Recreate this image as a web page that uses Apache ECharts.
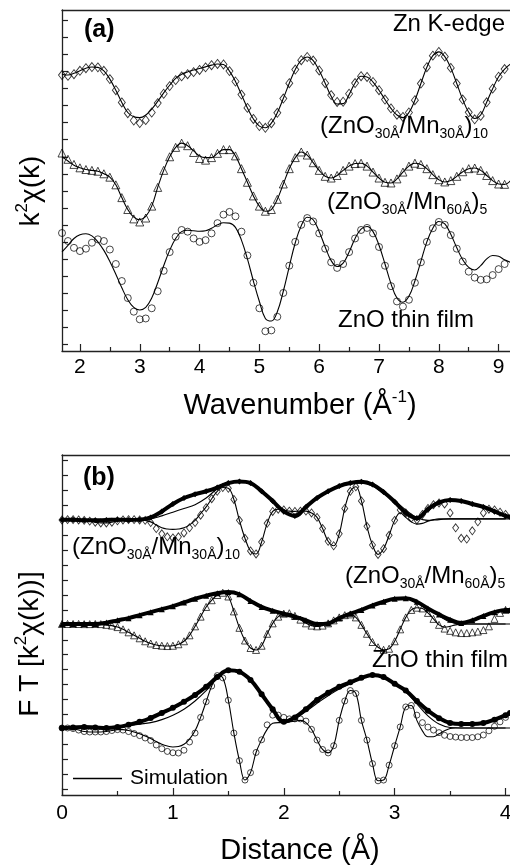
<!DOCTYPE html>
<html>
<head>
<meta charset="utf-8">
<title>Zn K-edge EXAFS and Fourier transforms</title>
<script src="https://cdn.jsdelivr.net/npm/echarts@6.0.0/dist/echarts.min.js"></script>
<style>
  html, body { margin: 0; padding: 0; background: #fff; }
  #chart { width: 510px; height: 865px; }
</style>
</head>
<body>
<div id="chart"></div>
<script>
const FONT = "'Liberation Sans', Arial, Helvetica, sans-serif";

// ---- (a) k-space, wavenumber in 1/Å ----
const kGrid = [1.7, 1.8, 1.9, 2.0, 2.1, 2.2, 2.3, 2.4, 2.5, 2.6,
  2.7, 2.8, 2.9, 3.0, 3.1, 3.2, 3.3, 3.4, 3.5, 3.6,
  3.7, 3.8, 3.9, 4.0, 4.1, 4.2, 4.3, 4.4, 4.5, 4.6,
  4.7, 4.8, 4.9, 5.0, 5.1, 5.2, 5.3, 5.4, 5.5, 5.6,
  5.7, 5.8, 5.9, 6.0, 6.1, 6.2, 6.3, 6.4, 6.5, 6.6,
  6.7, 6.8, 6.9, 7.0, 7.1, 7.2, 7.3, 7.4, 7.5, 7.6,
  7.7, 7.8, 7.9, 8.0, 8.1, 8.2, 8.3, 8.4, 8.5, 8.6,
  8.7, 8.8, 8.9, 9.0, 9.1, 9.2];

// (ZnO30Å/Mn30Å)10, measured and simulated (vertically offset)
const chiMn30 = [15.8, 15.75, 15.85, 16.05, 16.2, 16.27, 16.25, 16.05, 15.56, 14.91,
  14.19, 13.56, 13.13, 12.98, 13.15, 13.6, 14.15, 14.7, 15.15, 15.5,
  15.72, 15.85, 15.97, 16.1, 16.25, 16.38, 16.45, 16.42, 16.03, 15.42,
  14.65, 13.87, 13.22, 12.8, 12.7, 12.97, 13.58, 14.42, 15.32, 16.12,
  16.67, 16.86, 16.65, 16.07, 15.32, 14.62, 14.22, 14.23, 14.7, 15.33,
  15.73, 15.69, 15.39, 14.91, 14.36, 13.84, 13.47, 13.34, 13.6, 14.32,
  15.3, 16.26, 16.94, 17.16, 16.88, 16.22, 15.3, 14.36, 13.61, 13.2,
  13.4, 14.2, 15.0, 15.7, 16.15, 16.45];
const chiMn30Fit = [15.85, 15.8, 15.9, 16.05, 16.2, 16.27, 16.25, 16.05, 15.56, 14.91,
  14.19, 13.6, 13.35, 13.3, 13.45, 13.8, 14.25, 14.75, 15.2, 15.6,
  15.85, 15.98, 16.1, 16.18, 16.28, 16.38, 16.45, 16.42, 16.03, 15.42,
  14.65, 13.87, 13.22, 12.8, 12.7, 12.97, 13.58, 14.42, 15.32, 16.12,
  16.67, 16.86, 16.65, 16.07, 15.32, 14.55, 14.1, 14.12, 14.65, 15.33,
  15.73, 15.69, 15.39, 14.91, 14.36, 13.84, 13.45, 13.3, 13.6, 14.32,
  15.3, 16.26, 16.94, 17.16, 16.88, 16.22, 15.3, 14.36, 13.61, 13.25,
  13.45, 14.2, 15.0, 15.7, 16.15, 16.45];

// (ZnO30Å/Mn60Å)5
const chiMn60 = [11.22, 10.85, 10.55, 10.35, 10.25, 10.2, 10.15, 10.0, 9.8, 9.35,
  8.6, 7.9, 7.35, 7.17, 7.4, 8.1, 9.2, 10.2, 11.0, 11.55,
  11.8, 11.65, 11.25, 10.9, 10.8, 10.95, 11.2, 11.42, 11.42, 11.05,
  10.3, 9.5, 8.7, 8.1, 7.8, 7.9, 8.5, 9.4, 10.3, 10.95,
  11.28, 11.1, 10.65, 10.2, 9.85, 9.75, 9.9, 10.2, 10.45, 10.6,
  10.62, 10.45, 10.1, 9.75, 9.5, 9.46, 9.7, 10.1, 10.45, 10.62,
  10.55, 10.3, 9.95, 9.65, 9.52, 9.6, 9.85, 10.12, 10.3, 10.34,
  10.2, 9.9, 9.6, 9.4, 9.38, 9.6];
const chiMn60Fit = [11.0, 10.75, 10.5, 10.35, 10.25, 10.2, 10.15, 10.0, 9.8, 9.35,
  8.6, 7.9, 7.45, 7.3, 7.5, 8.1, 9.2, 10.2, 11.0, 11.55,
  11.8, 11.65, 11.35, 11.05, 10.95, 10.95, 11.2, 11.42, 11.42, 11.05,
  10.3, 9.5, 8.7, 8.1, 7.8, 7.9, 8.5, 9.4, 10.3, 10.95,
  11.28, 11.1, 10.65, 10.2, 9.85, 9.75, 9.9, 10.2, 10.45, 10.6,
  10.62, 10.45, 10.1, 9.75, 9.5, 9.46, 9.7, 10.1, 10.45, 10.62,
  10.55, 10.3, 9.95, 9.65, 9.52, 9.6, 9.85, 10.12, 10.3, 10.34,
  10.2, 9.9, 9.6, 9.4, 9.38, 9.6];

// ZnO thin film
const chiZnO = [6.52, 6.05, 5.65, 5.46, 5.6, 5.95, 6.15, 6.05, 5.55, 4.7,
  3.7, 2.7, 1.9, 1.45, 1.5, 2.1, 3.1, 4.3, 5.4, 6.3,
  6.7, 6.6, 6.2, 6.0, 6.1, 6.5, 7.1, 7.6, 7.76, 7.5,
  6.6, 5.2, 3.6, 2.1, 0.75, 0.8, 1.6, 3.0, 4.6, 6.0,
  7.0, 7.4, 7.2, 6.5, 5.6, 4.8, 4.47, 4.7, 5.4, 6.2,
  6.7, 6.82, 6.5, 5.7, 4.6, 3.4, 2.5, 2.2, 2.6, 3.6,
  4.8, 6.0, 6.8, 7.17, 7.0, 6.4, 5.6, 4.85, 4.25, 3.9,
  3.77, 3.8, 4.05, 4.4, 4.7, 4.95];
const chiZnOFit = [5.41, 5.8, 6.2, 6.42, 6.48, 6.35, 6.0, 5.5, 4.85, 4.1,
  3.3, 2.6, 2.15, 2.0, 2.15, 2.7, 3.6, 4.6, 5.5, 6.2,
  6.6, 6.68, 6.65, 6.62, 6.65, 6.8, 7.0, 7.12, 7.1, 6.85,
  6.1, 5.0, 3.7, 2.5, 1.5, 1.35, 1.9, 3.1, 4.55, 5.95,
  6.95, 7.45, 7.3, 6.6, 5.7, 4.9, 4.55, 4.75, 5.4, 6.2,
  6.75, 6.9, 6.6, 5.8, 4.7, 3.55, 2.7, 2.45, 2.8, 3.7,
  4.85, 6.0, 6.8, 7.2, 7.05, 6.45, 5.65, 4.95, 4.5, 4.35,
  4.6, 5.0, 5.2, 5.15, 4.95, 4.8];

const kTicks = [2, 3, 4, 5, 6, 7, 8, 9];
const kMinorTicks = [2.5, 3.5, 4.5, 5.5, 6.5, 7.5, 8.5];
const chiTicks = [0, 1, 2, 3, 4, 5, 6, 7, 8, 9, 10, 11, 12, 13, 14, 15, 16, 17, 18, 19];

// ---- (b) R-space, distance in Å ----
const rMag = [0, 0.1, 0.2, 0.3, 0.4, 0.5, 0.6, 0.7, 0.8, 0.9,
  1.0, 1.1, 1.2, 1.3, 1.4, 1.5, 1.6, 1.7, 1.8, 1.9,
  2.0, 2.1, 2.2, 2.3, 2.4, 2.5, 2.6, 2.7, 2.8, 2.9,
  3.0, 3.1, 3.2, 3.3, 3.4, 3.5, 3.6, 3.7, 3.8, 3.9,
  4.0, 4.04];
const rIm = [0, 0.05, 0.1, 0.15, 0.2, 0.25, 0.3, 0.35, 0.4, 0.45,
  0.5, 0.55, 0.6, 0.65, 0.7, 0.75, 0.8, 0.85, 0.9, 0.95,
  1.0, 1.05, 1.1, 1.15, 1.2, 1.25, 1.3, 1.35, 1.4, 1.45,
  1.5, 1.55, 1.6, 1.65, 1.7, 1.75, 1.8, 1.85, 1.9, 1.95,
  2.0, 2.05, 2.1, 2.15, 2.2, 2.25, 2.3, 2.35, 2.4, 2.45,
  2.5, 2.55, 2.6, 2.65, 2.7, 2.75, 2.8, 2.85, 2.9, 2.95,
  3.0, 3.05, 3.1, 3.15, 3.2, 3.25, 3.3, 3.35, 3.4, 3.45,
  3.5, 3.55, 3.6, 3.65, 3.7, 3.75, 3.8, 3.85, 3.9, 3.95,
  4.0];

// (ZnO30Å/Mn30Å)10: magnitude and imaginary part
const ftMagMn30 = [18.05, 18.05, 18.0, 18.0, 18.03, 18.05, 18.03, 18.05, 18.2, 18.6,
  19.1, 19.5, 19.75, 19.95, 20.2, 20.5, 20.6, 20.5, 19.95, 19.3,
  18.6, 18.3, 18.9, 19.5, 19.95, 20.3, 20.5, 20.58, 20.4, 19.9,
  19.25, 18.5, 18.15, 18.75, 19.2, 19.37, 19.3, 19.1, 18.9, 18.6,
  18.3, 18.23];
const ftMagMn30Fit = [18.05, 18.05, 18.0, 18.0, 18.03, 18.05, 18.03, 18.05, 18.1, 18.3,
  18.55, 18.8, 19.05, 19.5, 20.1, 20.45, 20.55, 20.45, 19.9, 19.25,
  18.6, 18.35, 18.9, 19.45, 19.9, 20.25, 20.45, 20.5, 20.3, 19.8,
  19.3, 18.7, 18.2, 18.0, 18.05, 18.1, 18.1, 18.1, 18.1, 18.1,
  18.1, 18.1];
const ftImMn30 = [18.03, 18.05, 18.05, 18.03, 18.0, 17.95, 17.88, 17.83, 17.83, 17.88,
  17.97, 18.03, 18.05, 18.05, 18.03, 18.0, 17.85, 17.45, 17.1, 16.9,
  16.82, 16.9, 17.16, 17.5, 17.85, 18.35, 18.85, 19.45, 19.95, 20.2,
  20.15, 19.4, 18.0, 16.8, 15.95, 15.75, 16.55, 17.8, 18.6, 18.75,
  18.7, 18.62, 18.6, 18.62, 18.62, 18.5, 18.2, 17.45, 16.6, 16.3,
  17.1, 18.8, 19.95, 20.25, 19.3, 17.6, 16.35, 15.72, 16.1, 17.0,
  18.0, 18.7, 18.5, 18.15, 18.03, 18.4, 18.8, 19.05, 19.17, 19.1,
  18.5, 17.5, 16.8, 16.75, 17.3, 17.9, 18.5, 18.75, 18.7, 18.55,
  18.4];
const ftImMn30Fit = [18.03, 18.05, 18.05, 18.03, 18.0, 17.95, 17.88, 17.83, 17.83, 17.88,
  17.97, 18.03, 18.05, 18.05, 18.03, 18.0, 17.9, 17.7, 17.5, 17.42,
  17.4, 17.42, 17.5, 17.7, 18.0, 18.45, 18.9, 19.45, 19.95, 20.2,
  20.15, 19.4, 18.0, 16.8, 15.95, 15.75, 16.55, 17.8, 18.6, 18.75,
  18.7, 18.62, 18.6, 18.62, 18.62, 18.5, 18.2, 17.45, 16.6, 16.3,
  17.1, 18.8, 19.95, 20.25, 19.3, 17.6, 16.35, 15.72, 16.1, 17.0,
  18.0, 18.5, 18.2, 17.9, 17.75, 17.8, 17.95, 18.05, 18.1, 18.1,
  18.1, 18.1, 18.1, 18.1, 18.1, 18.1, 18.1, 18.1, 18.1, 18.1,
  18.1];

// (ZnO30Å/Mn60Å)5
const ftMagMn60 = [11.06, 11.06, 11.05, 11.06, 11.15, 11.3, 11.45, 11.65, 11.85, 12.05,
  12.25, 12.5, 12.75, 12.95, 13.12, 13.2, 13.05, 12.6, 12.2, 11.95,
  11.75, 11.55, 11.3, 11.05, 11.1, 11.45, 11.75, 12.0, 12.3, 12.55,
  12.75, 12.78, 12.55, 12.1, 11.7, 11.35, 11.13, 11.3, 11.6, 11.85,
  12.0, 12.0];
const ftMagMn60Fit = [11.06, 11.06, 11.05, 11.06, 11.15, 11.3, 11.45, 11.65, 11.85, 12.05,
  12.25, 12.5, 12.75, 12.95, 13.12, 13.2, 13.05, 12.6, 12.2, 11.95,
  11.75, 11.55, 11.3, 11.05, 11.1, 11.45, 11.75, 12.0, 12.3, 12.55,
  12.75, 12.78, 12.55, 12.1, 11.6, 11.2, 11.06, 11.06, 11.06, 11.06,
  11.06, 11.06];
const ftImMn60 = [11.06, 11.06, 11.06, 11.06, 11.05, 11.05, 11.06, 11.05, 11.0, 10.95,
  10.85, 10.7, 10.5, 10.3, 10.1, 9.9, 9.75, 9.65, 9.6, 9.58,
  9.6, 9.7, 9.9, 10.3, 10.9, 11.55, 12.2, 12.65, 13.0, 13.15,
  12.9, 11.9, 10.8, 9.95, 9.45, 9.32, 9.6, 10.4, 11.1, 11.55,
  11.75, 11.78, 11.6, 11.35, 11.1, 10.95, 10.9, 10.95, 11.1, 11.3,
  11.5, 11.65, 11.7, 11.5, 11.0, 10.4, 9.85, 9.5, 9.33, 9.4,
  9.9, 10.7, 11.5, 12.0, 12.15, 12.1, 11.8, 11.4, 11.0, 10.75,
  10.6, 10.5, 10.45, 10.45, 10.5, 10.55, 10.65, 10.9, 11.4, 11.8,
  12.0];
const ftImMn60Fit = [11.06, 11.06, 11.06, 11.06, 11.05, 11.05, 11.06, 11.05, 11.0, 10.95,
  10.85, 10.7, 10.5, 10.3, 10.1, 9.9, 9.75, 9.65, 9.6, 9.58,
  9.6, 9.7, 9.9, 10.3, 10.9, 11.55, 12.2, 12.65, 13.0, 13.15,
  12.9, 11.9, 10.8, 9.95, 9.45, 9.32, 9.6, 10.4, 11.1, 11.55,
  11.75, 11.78, 11.6, 11.35, 11.1, 10.95, 10.9, 10.95, 11.1, 11.3,
  11.5, 11.65, 11.7, 11.5, 11.0, 10.4, 9.85, 9.5, 9.33, 9.4,
  9.9, 10.7, 11.5, 12.0, 12.15, 12.1, 11.8, 11.4, 11.0, 10.85,
  10.9, 11.0, 11.05, 11.06, 11.06, 11.06, 11.06, 11.06, 11.06, 11.06,
  11.06];

// ZnO thin film
const ftMagZnO = [4.09, 4.12, 4.15, 4.12, 4.09, 4.15, 4.3, 4.5, 4.76, 5.1,
  5.45, 5.85, 6.3, 6.85, 7.5, 7.95, 7.85, 7.31, 6.35, 5.35,
  4.5, 4.8, 5.35, 5.97, 6.45, 6.85, 7.15, 7.45, 7.64, 7.5,
  7.05, 6.6, 5.9, 5.25, 4.75, 4.42, 4.35, 4.35, 4.42, 4.65,
  4.95, 5.09];
const ftMagZnOFit = [4.09, 4.12, 4.15, 4.12, 4.09, 4.15, 4.25, 4.35, 4.45, 4.65,
  4.95, 5.35, 5.9, 6.6, 7.4, 7.9, 7.8, 7.3, 6.35, 5.35,
  4.55, 4.75, 5.2, 5.75, 6.25, 6.7, 7.05, 7.4, 7.6, 7.5,
  7.05, 6.5, 5.7, 4.9, 4.35, 4.12, 4.09, 4.09, 4.09, 4.09,
  4.09, 4.09];
const ftImZnO = [4.09, 4.09, 4.05, 3.95, 3.85, 3.82, 3.82, 3.82, 3.85, 3.92,
  3.98, 3.95, 3.85, 3.72, 3.58, 3.42, 3.25, 2.95, 2.7, 2.52,
  2.43, 2.41, 2.6, 3.15, 3.75, 4.8, 5.85, 6.9, 7.6, 7.45,
  5.95, 3.75, 1.9, 0.6, 1.1, 2.45, 3.3, 4.3, 4.95, 4.95,
  4.8, 4.7, 4.7, 4.7, 4.55, 4.0, 3.28, 2.65, 2.42, 2.9,
  4.6, 5.9, 6.6, 6.4, 4.6, 3.28, 1.7, 0.55, 0.6, 1.6,
  2.9, 4.16, 5.5, 5.6, 4.95, 4.45, 4.15, 3.95, 3.78, 3.6,
  3.52, 3.48, 3.45, 3.45, 3.45, 3.5, 3.62, 3.9, 4.2, 4.5,
  4.8];
const ftImZnOFit = [4.09, 4.09, 4.05, 3.95, 3.85, 3.82, 3.82, 3.82, 3.85, 3.92,
  3.98, 3.98, 3.92, 3.82, 3.7, 3.55, 3.38, 3.18, 3.0, 2.88,
  2.82, 2.85, 3.0, 3.35, 3.9, 4.8, 5.85, 6.9, 7.6, 7.45,
  5.95, 3.75, 1.9, 0.6, 1.1, 2.45, 3.3, 4.0, 4.4, 4.45,
  4.45, 4.5, 4.55, 4.6, 4.45, 4.0, 3.28, 2.65, 2.42, 2.9,
  4.6, 5.9, 6.6, 6.4, 4.6, 3.28, 1.7, 0.55, 0.6, 1.6,
  2.9, 4.16, 5.5, 5.6, 4.6, 3.9, 3.5, 3.5, 3.7, 3.9,
  4.05, 4.09, 4.09, 4.09, 4.09, 4.09, 4.09, 4.09, 4.09, 4.09,
  4.09];

const rTicks = [0, 1, 2, 3, 4];
const rMinorTicks = [0.5, 1.5, 2.5, 3.5];
const ftTicks = [0, 1, 2, 3, 4, 5, 6, 7, 8, 9, 10, 11, 12, 13, 14, 15, 16, 17, 18, 19, 20, 21, 22];

// ---- helpers ----
const pts = (xs, ys) => ys.map((y, i) => [xs[i], y]);
const AXIS_COLOR = '#222';

const openMarks = (name, xs, ys, symbol, size, xi, yi) => ({
  name, type: 'scatter', xAxisIndex: xi, yAxisIndex: yi, data: pts(xs, ys),
  symbol, symbolSize: size, silent: true, z: 2,
  itemStyle: { color: 'rgba(255,255,255,0)', borderColor: '#000', borderWidth: 0.9 }
});
const magnitude = (name, xs, ys, symbol, xi, yi) => ({
  name, type: 'line', xAxisIndex: xi, yAxisIndex: yi, data: pts(xs, ys),
  symbol, symbolSize: 6, showSymbol: true, smooth: 0.4, silent: true, z: 3,
  lineStyle: { color: '#000', width: 4 }, itemStyle: { color: '#000' }
});
const simulation = (xs, ys, xi, yi) => ({
  name: 'Simulation', type: 'line', xAxisIndex: xi, yAxisIndex: yi, data: pts(xs, ys),
  symbol: 'none', smooth: 0.4, silent: true, z: 4,
  lineStyle: { color: '#000', width: 1.1 }, itemStyle: { color: '#000' }
});

const mainX = (grid, min, max, ticks, margin) => ({
  gridIndex: grid, type: 'value', position: 'bottom', min, max,
  axisLine: { onZero: false, lineStyle: { color: AXIS_COLOR, width: 1.3 } },
  axisTick: { inside: true, length: 7, customValues: ticks, lineStyle: { color: AXIS_COLOR, width: 1.2 } },
  axisLabel: { customValues: ticks, fontSize: 21, color: '#000', fontFamily: FONT, margin },
  splitLine: { show: false }
});
const minorX = (grid, min, max, ticks) => ({
  gridIndex: grid, type: 'value', position: 'bottom', min, max,
  axisLine: { show: false, onZero: false },
  axisTick: { inside: true, length: 4, customValues: ticks, lineStyle: { color: AXIS_COLOR, width: 1.2 } },
  axisLabel: { show: false }, splitLine: { show: false }
});
const borderX = (grid, min, max) => ({
  gridIndex: grid, type: 'value', position: 'top', min, max,
  axisLine: { onZero: false, lineStyle: { color: AXIS_COLOR, width: 1.3 } },
  axisTick: { show: false }, axisLabel: { show: false }, splitLine: { show: false }
});
const leftY = (grid, min, max, ticks) => ({
  gridIndex: grid, type: 'value', position: 'left', min, max,
  axisLine: { show: true, onZero: false, lineStyle: { color: AXIS_COLOR, width: 1.3 } },
  axisTick: { show: true, inside: true, length: 6, customValues: ticks, lineStyle: { color: AXIS_COLOR, width: 1.2 } },
  axisLabel: { show: false }, splitLine: { show: false }
});

const labelRich = {
  m: { fontSize: 24, fontFamily: FONT, lineHeight: 30, fill: '#000' },
  s: { fontSize: 14, fontFamily: FONT, lineHeight: 10, verticalAlign: 'bottom', fill: '#000' }
};
const label = (x, y, text, align) => ({
  type: 'text', x, y, silent: true,
  style: { text, rich: labelRich, fill: '#000', fontFamily: FONT, fontSize: 24,
    align: align || 'left', verticalAlign: 'middle' }
});
const titleRich = (size) => ({
  t: { fontSize: size, fontFamily: FONT, lineHeight: size + 6, fill: '#000' },
  u: { fontSize: Math.round(size * 0.6), fontFamily: FONT, lineHeight: 12, verticalAlign: 'top', fill: '#000' }
});
const title = (x, y, text, size, rotation) => ({
  type: 'text', x, y, rotation: rotation || 0, silent: true,
  style: { text, rich: titleRich(size), fill: '#000', fontFamily: FONT, fontSize: size,
    align: 'center', verticalAlign: 'middle' }
});
const panelTag = (x, y, text) => ({
  type: 'text', x, y, silent: true,
  style: { text, fill: '#000', font: 'bold 25px ' + FONT, align: 'left', verticalAlign: 'middle' }
});

const chart = echarts.init(document.getElementById('chart'), null, { renderer: 'canvas' });
chart.setOption({
  animation: false,
  backgroundColor: '#fff',
  grid: [
    { left: 62, top: 10, width: 448, height: 341, outerBoundsMode: 'none' },
    { left: 62, top: 455, width: 448, height: 340, outerBoundsMode: 'none' }
  ],
  xAxis: [
    mainX(0, 1.7, 9.19, kTicks, 6),
    minorX(0, 1.7, 9.19, kMinorTicks),
    borderX(0, 1.7, 9.19),
    mainX(1, 0, 4.04, rTicks, 8),
    minorX(1, 0, 4.04, rMinorTicks),
    borderX(1, 0, 4.04)
  ],
  yAxis: [
    leftY(0, -0.41, 19.62, chiTicks),
    leftY(1, -0.4, 22.38, ftTicks)
  ],
  legend: {
    data: [{ name: 'Simulation', icon: 'rect' }],
    left: 73, top: 768, padding: 0, itemGap: 0,
    itemWidth: 49, itemHeight: 1.3, selectedMode: false,
    itemStyle: { color: '#000', borderWidth: 0 },
    textStyle: { fontSize: 21, color: '#000', fontFamily: FONT, padding: [0, 0, 0, 3] }
  },
  series: [
    simulation(kGrid, chiMn30Fit, 0, 0),
    openMarks('(ZnO30Å/Mn30Å)10', kGrid, chiMn30, 'diamond', [7, 9], 0, 0),
    openMarks('(ZnO30Å/Mn60Å)5', kGrid, chiMn60, 'triangle', 8, 0, 0),
    openMarks('ZnO thin film', kGrid, chiZnO, 'circle', 7, 0, 0),
    simulation(kGrid, chiMn60Fit, 0, 0),
    simulation(kGrid, chiZnOFit, 0, 0),

    openMarks('Im (ZnO30Å/Mn30Å)10', rIm, ftImMn30, 'diamond', [6, 8], 3, 1),
    openMarks('Im (ZnO30Å/Mn60Å)5', rIm, ftImMn60, 'triangle', 7, 3, 1),
    openMarks('Im ZnO thin film', rIm, ftImZnO, 'circle', 6, 3, 1),
    magnitude('|FT| (ZnO30Å/Mn30Å)10', rMag, ftMagMn30, 'diamond', 3, 1),
    magnitude('|FT| (ZnO30Å/Mn60Å)5', rMag, ftMagMn60, 'triangle', 3, 1),
    magnitude('|FT| ZnO thin film', rMag, ftMagZnO, 'circle', 3, 1),
    simulation(rMag, ftMagMn30Fit, 3, 1),
    simulation(rIm, ftImMn30Fit, 3, 1),
    simulation(rMag, ftMagMn60Fit, 3, 1),
    simulation(rIm, ftImMn60Fit, 3, 1),
    simulation(rMag, ftMagZnOFit, 3, 1),
    simulation(rIm, ftImZnOFit, 3, 1)
  ],
  graphic: [
    panelTag(84, 30, '(a)'),
    panelTag(83, 478, '(b)'),
    label(505, 24, '{m|Zn K-edge}', 'right'),
    label(320, 126, '{m|(ZnO}{s|30Å}{m|/Mn}{s|30Å}{m|)}{s|10}'),
    label(327, 202, '{m|(ZnO}{s|30Å}{m|/Mn}{s|60Å}{m|)}{s|5}'),
    label(338, 320, '{m|ZnO thin film}'),
    label(72, 547, '{m|(ZnO}{s|30Å}{m|/Mn}{s|30Å}{m|)}{s|10}'),
    label(345, 576, '{m|(ZnO}{s|30Å}{m|/Mn}{s|60Å}{m|)}{s|5}'),
    label(372, 660, '{m|ZnO thin film}'),
    title(300, 406, '{t|Wavenumber (Å}{u|-1}{t|)}', 29),
    title(300, 851, '{t|Distance (Å)}', 29),
    title(31, 191, '{t|k}{u|2}{t|χ(k)}', 28, Math.PI / 2),
    title(30, 644, '{t|F T [k}{u|2}{t|χ(k))]}', 28, Math.PI / 2)
  ]
});
</script>
</body>
</html>
